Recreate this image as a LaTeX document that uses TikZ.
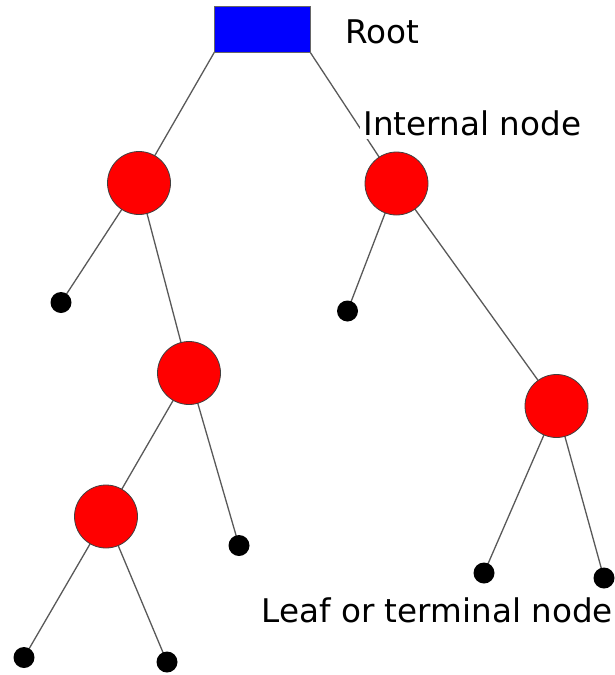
\documentclass[tikz,border=0pt]{standalone}
\usepackage{fontspec}
\setmainfont{DejaVu Sans}
\begin{document}
\begin{tikzpicture}[x=1pt,y=-1pt,
  inode/.style={circle,draw=black!75,line width=0.8pt,fill=red,minimum size=63pt,inner sep=0pt},
  leaf/.style={circle,fill=black,minimum size=21pt,inner sep=0pt},
  rootbox/.style={rectangle,draw=black!60,line width=0.8pt,fill=blue,minimum width=96pt,minimum height=46pt,inner sep=0pt},
  edge/.style={draw=black!65,line width=1.3pt},
  lbl/.style={font=\fontsize{32.6}{39}\selectfont,inner sep=4pt}]
\useasboundingbox (0,0) rectangle (614,675);
% edges first (behind)
\coordinate (rsw) at (214.5,52);
\coordinate (rse) at (310,52);
\coordinate (cA) at (139,183);
\coordinate (cB) at (396.5,183.5);
\coordinate (cC) at (189,373);
\coordinate (cD) at (106,516.5);
\coordinate (cE) at (556.5,406);
\coordinate (l1) at (61,302.5);
\coordinate (l2) at (347.5,311);
\coordinate (l3) at (239,545.5);
\coordinate (l4) at (24,657.5);
\coordinate (l5) at (167,662);
\coordinate (l6) at (484,573);
\coordinate (l7) at (604,578);
\draw[edge] (rsw) -- (cA);
\draw[edge] (rse) -- (cB);
\draw[edge] (cA) -- (l1);
\draw[edge] (cA) -- (cC);
\draw[edge] (cC) -- (cD);
\draw[edge] (cC) -- (l3);
\draw[edge] (cD) -- (l4);
\draw[edge] (cD) -- (l5);
\draw[edge] (cB) -- (l2);
\draw[edge] (cB) -- (cE);
\draw[edge] (cE) -- (l6);
\draw[edge] (cE) -- (l7);
% nodes
\node[rootbox] (root) at (262.25,29) {};
\node[inode] (A) at (cA) {};
\node[inode] (B) at (cB) {};
\node[inode] (C) at (cC) {};
\node[inode] (D) at (cD) {};
\node[inode] (E) at (cE) {};
\foreach \i in {1,...,7} {\node[leaf] (L\i) at (l\i) {};}
% labels
\node[lbl,anchor=base west] (troot) at (341.5,43) {Root};
\node[lbl,anchor=base west,fill=white] (tint) at (359.5,135) {Internal node};
\node[lbl,anchor=base west] (tleaf) at (257.5,622) {Leaf or terminal node};
\end{tikzpicture}
\end{document}
